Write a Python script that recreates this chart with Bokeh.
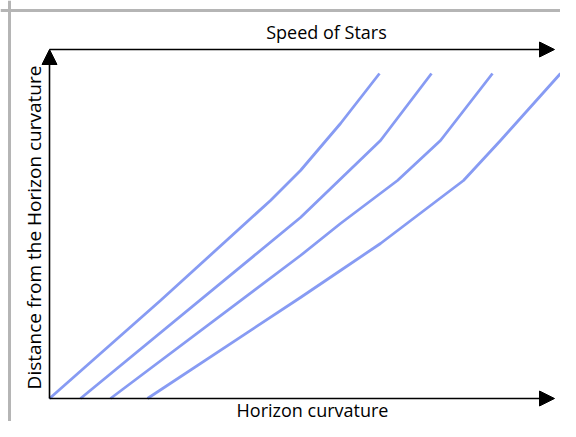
from bokeh.plotting import figure
from bokeh.models import Range1d, Arrow, NormalHead, Label, Span
from bokeh.embed import file_html
from bokeh.resources import INLINE
import math

# Data (arbitrary units)
curve1_x = [0.0, 22.2, 44.2, 50.2, 58.2, 66.0]
curve1_y = [0.0, 19.6, 39.6, 45.6, 55.0, 65.0]
curve2_x = [6.2, 50.2, 66.2, 76.4]
curve2_y = [0.0, 36.2, 51.6, 65.0]
curve3_x = [12.2, 50.2, 58.2, 69.6, 78.2, 88.6]
curve3_y = [0.0, 28.6, 35.0, 43.6, 51.6, 65.0]
curve4_x = [19.6, 50.2, 58.2, 66.2, 82.8, 90.2, 102.2]
curve4_y = [0.0, 20.2, 25.6, 31.0, 43.6, 51.6, 65.0]
curves = [(curve1_x, curve1_y), (curve2_x, curve2_y), (curve3_x, curve3_y), (curve4_x, curve4_y)]

axis_x_end = 101.0
axis_y_end = 69.8

title_top = "Speed of Stars"
label_bottom = "Horizon curvature"
label_left = "Distance from the Horizon curvature"

p = figure(width=560, height=421, output_backend="svg", toolbar_location=None,
           x_range=Range1d(-9.8, 102.2), y_range=Range1d(-4.6, 79.6),
           min_border=0, min_border_left=0, min_border_right=0,
           min_border_top=0, min_border_bottom=0)
p.axis.visible = False
p.grid.visible = False
p.outline_line_color = None
p.background_fill_color = "white"
p.border_fill_color = "white"

# frame border (left and top visible)
p.add_layout(Span(location=-8.0, dimension="height", line_color="#b5b5b5", line_width=3))
p.add_layout(Span(location=77.6, dimension="width", line_color="#b5b5b5", line_width=3))

for cx, cy in curves:
    p.line(cx, cy, line_color="#8196f2", line_width=2.8, line_alpha=0.95, line_join="round")

head = lambda: NormalHead(size=15, fill_color="black", line_color="black")
p.add_layout(Arrow(end=head(), x_start=0, y_start=0, x_end=axis_x_end, y_end=0,
                   line_color="black", line_width=1.6))
p.add_layout(Arrow(end=head(), x_start=0, y_start=axis_y_end, x_end=axis_x_end, y_end=axis_y_end,
                   line_color="black", line_width=1.6))
p.add_layout(Arrow(end=head(), x_start=0, y_start=0, x_end=0, y_end=axis_y_end,
                   line_color="black", line_width=1.6))

p.add_layout(Label(x=55.4, y=73.4, text=title_top, text_align="center", text_baseline="middle",
                   text_font="Open Sans", text_font_size="18px", text_color="black"))
p.add_layout(Label(x=52.6, y=-2.3, text=label_bottom, text_align="center", text_baseline="middle",
                   text_font="Open Sans", text_font_size="18px", text_color="black"))
p.add_layout(Label(x=-3.2, y=34.2, text=label_left, text_align="center", text_baseline="middle",
                   angle=math.pi / 2, text_font="Open Sans", text_font_size="19px", text_color="black"))

open("out.html", "w").write(file_html(p, INLINE))
